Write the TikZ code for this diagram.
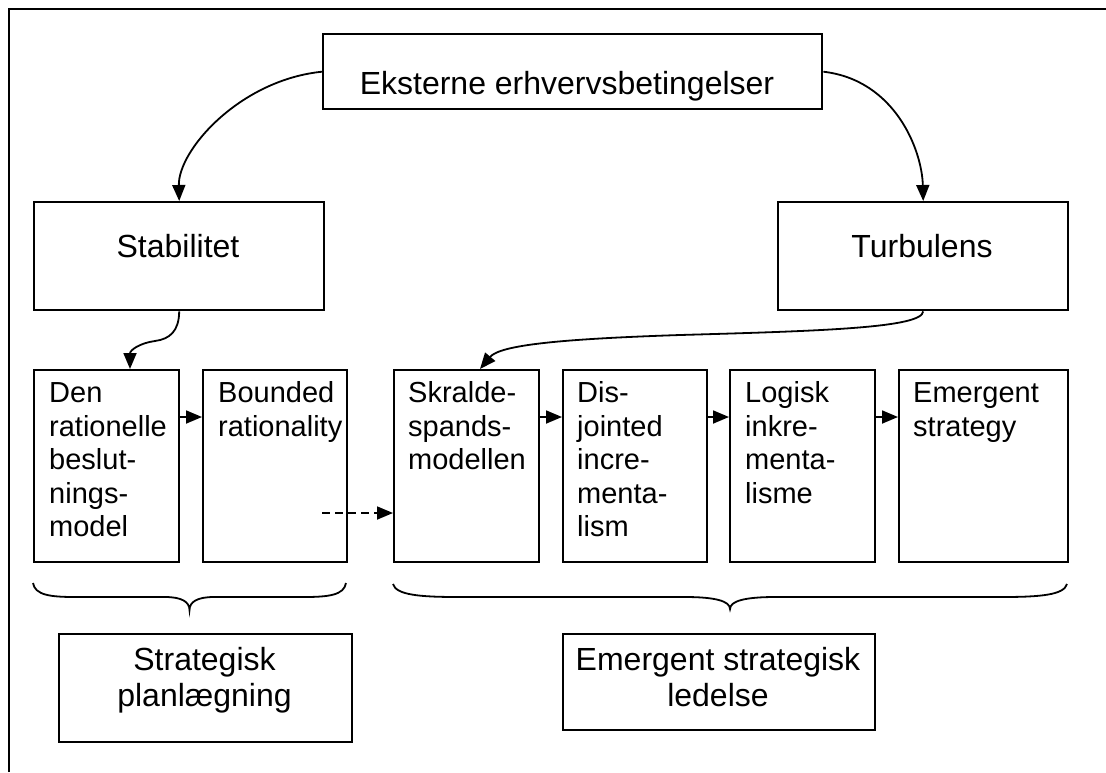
\documentclass[tikz,border=0pt]{standalone}
\usepackage{fontspec}
\usetikzlibrary{arrows.meta,calc}
\newfontfamily\arialfont{Liberation Sans}
\newcommand\headfont{\arialfont\fontsize{32}{37}\selectfont}
\newcommand\cellfont{\arialfont\fontsize{29}{33.5}\selectfont}
\newcommand\groupfont{\arialfont\fontsize{32}{36}\selectfont}
% multi-line nodes sit on the baseline of their last line
\tikzset{
  box/.style={draw, line width=2.4pt, inner sep=0pt, anchor=north west},
  headtxt/.style={font=\headfont, inner sep=0pt, anchor=base},
  celltxt/.style={font=\cellfont, align=left, inner sep=0pt, anchor=base west},
  grouptxt/.style={font=\groupfont, align=center, inner sep=0pt, anchor=base},
  conn/.style={line width=1.8pt, -{Triangle[length=16pt,width=13pt]}},
  dconn/.style={conn, dash pattern=on 8pt off 5pt},
  bracket/.style={line width=1.8pt},
}
\begin{document}
\begin{tikzpicture}[x=1pt,y=-1pt]
\useasboundingbox (0,0) rectangle (1106,772);

% outer frame (only the top and left sides lie inside the page)
\draw[line width=2pt] (8.5,772) -- (8.5,8.5) -- (1106,8.5);

% header and the two environment boxes
\node[box, minimum width=499pt, minimum height=75pt] (ext) at (322,33) {};
\node[headtxt] (exttxt) at (567,94) {Eksterne erhvervsbetingelser};
\node[box, minimum width=290pt, minimum height=108pt] (stab) at (33,201) {};
\node[headtxt] (stabtxt) at (178,257) {Stabilitet};
\node[box, minimum width=290pt, minimum height=108pt] (turb) at (777,201) {};
\node[headtxt] (turbtxt) at (922,257) {Turbulens};

% row of decision models
\node[box, minimum width=145pt, minimum height=192pt] (den) at (33,369) {};
\node[box, minimum width=144pt, minimum height=192pt] (bnd) at (202,369) {};
\node[box, minimum width=145pt, minimum height=192pt] (skr) at (393,369) {};
\node[box, minimum width=144pt, minimum height=192pt] (dis) at (562,369) {};
\node[box, minimum width=145pt, minimum height=192pt] (log) at (729,369) {};
\node[box, minimum width=169pt, minimum height=192pt] (emg) at (898,369) {};

\node[celltxt] (dentxt) at (49,536.7) {Den\\rationelle\\beslut-\\nings-\\model};
\node[celltxt] (bndtxt) at (218,436.2) {Bounded\\rationality};
\node[celltxt] (skrtxt) at (408,469.7) {Skralde-\\spands-\\modellen};
\node[celltxt] (distxt) at (577,536.7) {Dis-\\jointed\\incre-\\menta-\\lism};
\node[celltxt] (logtxt) at (745,503.2) {Logisk\\inkre-\\menta-\\lisme};
\node[celltxt] (emgtxt) at (913,436.2) {Emergent\\strategy};

% group labels
\node[box, minimum width=293pt, minimum height=108pt] (plan) at (58,633) {};
\node[grouptxt] (plantxt) at (204.5,706) {Strategisk\\planlægning};
\node[box, minimum width=312pt, minimum height=96pt] (lead) at (562,633) {};
\node[grouptxt] (leadtxt) at (718,706) {Emergent strategisk\\ledelse};

% curved connectors
\draw[conn] (ext.west) .. controls (240,80) and (178,150) .. (stab.north);
\draw[conn] (ext.east) .. controls (895,80) and (922,150) .. (turb.north);
\draw[conn] (stab.south) .. controls (179,331) and (170,339) .. (155,341)
  .. controls (140,343) and (130,350) .. ($(den.north west)+(97,0)$);
\draw[conn] (turb.south) .. controls (922,328) and (820,331) .. (680,335)
  .. controls (560,339) and (500,345) .. ($(skr.north west)+(87,0)$);

% straight connectors along the row
\coordinate (row) at (0,417);
\draw[conn] (den.east |- row) -- (bnd.west |- row);
\draw[conn] (skr.east |- row) -- (dis.west |- row);
\draw[conn] (dis.east |- row) -- (log.west |- row);
\draw[conn] (log.east |- row) -- (emg.west |- row);
\coordinate (dstart) at (322,513);
\draw[dconn] (dstart) -- (skr.west |- dstart);

% braces under the two groups
\draw[bracket] (33,583) .. controls (35,595) and (50,597) .. (75,597) -- (165,597)
  .. controls (182,597) and (189.5,602) .. (189.5,610)
  .. controls (189.5,602) and (197,597) .. (214,597) -- (304,597)
  .. controls (329,597) and (344,595) .. (346,583);
\draw[bracket] (393,584) .. controls (396,595) and (420,597) .. (458,597) -- (685,597)
  .. controls (715,597) and (730,601) .. (730,609)
  .. controls (730,601) and (745,597) .. (775,597) -- (1002,597)
  .. controls (1040,597) and (1064,595) .. (1067,584);
\end{tikzpicture}
\end{document}
